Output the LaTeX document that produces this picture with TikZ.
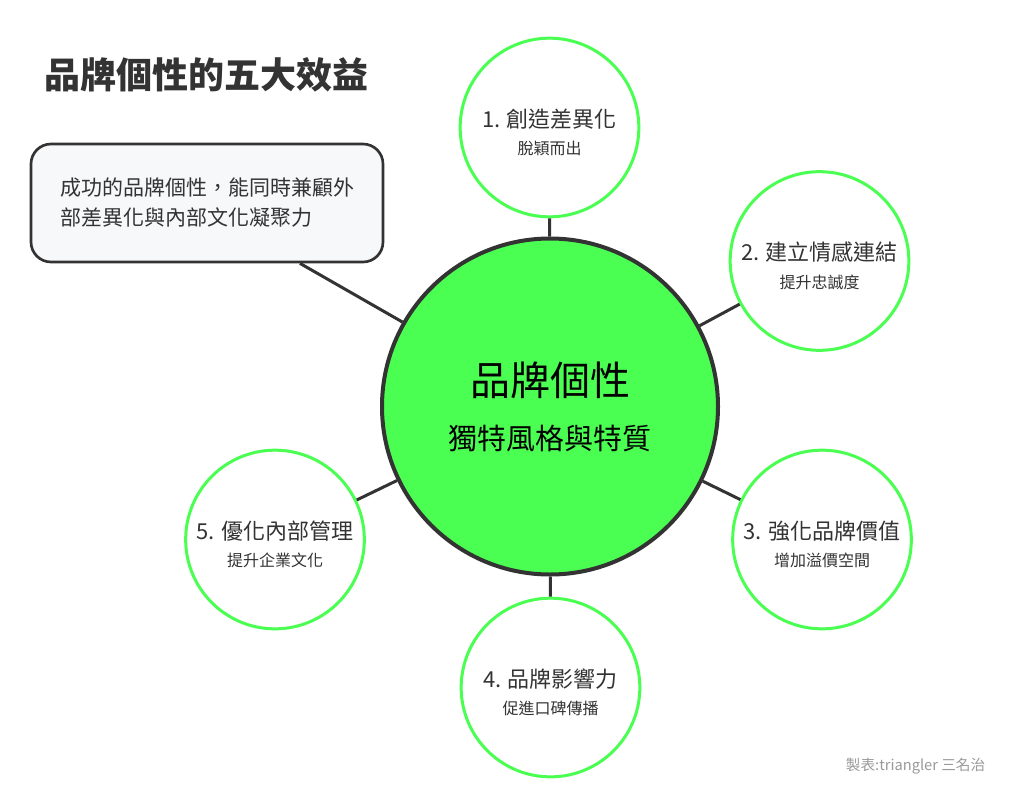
\documentclass[tikz,border=0pt]{standalone}
\usepackage{xcolor}
\usepackage{fontspec}
\setmainfont{Noto Sans CJK TC}
\usetikzlibrary{positioning}
\definecolor{brandgreen}{HTML}{4BFF52}
\definecolor{inkgray}{HTML}{333333}
\definecolor{boxfill}{HTML}{F7F8FA}
\definecolor{notegray}{HTML}{9A9A9A}

\begin{document}
\begin{tikzpicture}[x=0.75pt,y=-0.75pt,
  core/.style={circle,draw=inkgray,line width=3pt,fill=brandgreen,minimum size=252pt,inner sep=0pt,align=center,font=\fontsize{21.75}{40.5}\selectfont},
  benefit/.style={circle,draw=brandgreen,line width=2.25pt,fill=white,minimum size=134pt,inner sep=0pt,align=center,text=inkgray,font=\fontsize{12}{20.5}\selectfont},
  link/.style={draw=inkgray,line width=2.25pt}]
\useasboundingbox[fill=white] (0,0) rectangle (1024,807);
% Title
\node[anchor=west,text=inkgray,font=\fontsize{27}{31}\selectfont\bfseries] (title) at (40,75) {品牌個性的五大效益};
% Centre and benefits
\node[core] (core) at (550,406.5) {{\fontsize{30}{36}\selectfont 品牌個性}\\獨特風格與特質};
\node[benefit] (b1) at (549.5,127.5) {{\fontsize{16.5}{20}\selectfont\rule{0pt}{21pt}1. 創造差異化}\\脫穎而出};
\node[benefit] (b2) at (819.5,261) {{\fontsize{16.5}{20}\selectfont\rule{0pt}{21pt}2. 建立情感連結}\\提升忠誠度};
\node[benefit] (b3) at (822,539.5) {{\fontsize{16.5}{20}\selectfont\rule{0pt}{21pt}3. 強化品牌價值}\\增加溢價空間};
\node[benefit] (b4) at (550.5,687.5) {{\fontsize{16.5}{20}\selectfont\rule{0pt}{21pt}4. 品牌影響力}\\促進口碑傳播};
\node[benefit] (b5) at (275,539.5) {{\fontsize{16.5}{20}\selectfont\rule{0pt}{21pt}5. 優化內部管理}\\提升企業文化};
% Note
\node[draw=inkgray,line width=2pt,fill=boxfill,rounded corners=15pt,minimum width=264pt,minimum height=88.5pt,inner sep=0pt,align=left,text=inkgray,font=\fontsize{15.75}{22.5}\selectfont] (note) at (207,203) {成功的品牌個性，能同時兼顧外\\部差異化與內部文化凝聚力};
% Links
\draw[link] (core) -- (b1);
\draw[link] (core) -- (b2);
\draw[link] (core) -- (b3);
\draw[link] (core) -- (b4);
\draw[link] (core) -- (b5);
\draw[link] (note.-33.5) -- (core);
% Footer
\node[anchor=east,text=notegray,font=\fontsize{11}{13}\selectfont] (credit) at (990,766) {製表:triangler 三名治};
\end{tikzpicture}
\end{document}
